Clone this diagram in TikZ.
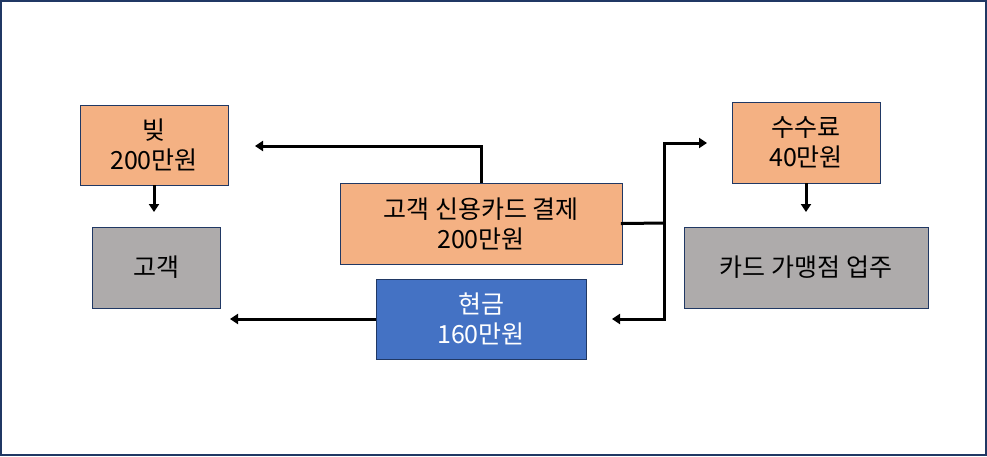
\documentclass[tikz,border=0pt]{standalone}
\usepackage{fontspec}
\setmainfont{Noto Sans CJK KR}
\usetikzlibrary{arrows.meta}
\definecolor{boxpeach}{HTML}{F4B183}
\definecolor{boxgray}{HTML}{AEABAB}
\definecolor{boxblue}{HTML}{4472C4}
\definecolor{boxline}{HTML}{203864}

\begin{document}
\begin{tikzpicture}[
        x=1pt,y=-1pt,>=Triangle,
        money/.style={rectangle,inner sep=0pt,draw=boxline,line width=.9pt,
          align=center,font=\fontsize{25}{30}\selectfont},
        party/.style={money,fill=boxgray},
        flow/.style={-{Triangle[length=8pt,width=10pt]},line width=3pt,draw=black},
        wire/.style={line width=3pt,line cap=rect,draw=black}
      ]
        \useasboundingbox (0,0) rectangle (987,456);
        \draw[boxline,line width=2pt] (1,1) rectangle (986,455);

        \node[money,fill=boxpeach,minimum width=148pt,minimum height=80pt]
          (debt) at (154,145) {빚\\200만원};
        \node[party,minimum width=128pt,minimum height=81pt]
          (customer) at (156,267.5) {고객};
        \node[money,fill=boxpeach,minimum width=282pt,minimum height=81pt]
          (payment) at (481,223.5) {고객 신용카드 결제\\200만원};
        \node[money,fill=boxblue,text=white,minimum width=210pt,minimum height=80pt]
          (cash) at (481,319) {현금\\160만원};
        \node[money,fill=boxpeach,minimum width=148pt,minimum height=81pt]
          (fee) at (806,142.5) {수수료\\40만원};
        \node[party,minimum width=244pt,minimum height=81pt]
          (merchant) at (806,267.5) {카드 가맹점 업주};

        % free arrow ends
        \coordinate (debtend) at (255,146);
        \coordinate (custend) at (154,212);
        \coordinate (cashend) at (230,319);
        \coordinate (split) at (664,223);
        \coordinate (feeend) at (707,143);
        \coordinate (backend) at (612,319);
        \coordinate (merchend) at (806,212);

        \draw[flow] (payment.north) |- (debtend);
        \draw[flow] (debt.south) -- (custend);
        \draw[flow] (cash.west) -- (cashend);
        \draw[wire] (payment.east) -- (split);
        \draw[flow] (split) |- (feeend);
        \draw[flow] (split) |- (backend);
        \draw[flow] (fee.south) -- (merchend);
      \end{tikzpicture}
\end{document}
